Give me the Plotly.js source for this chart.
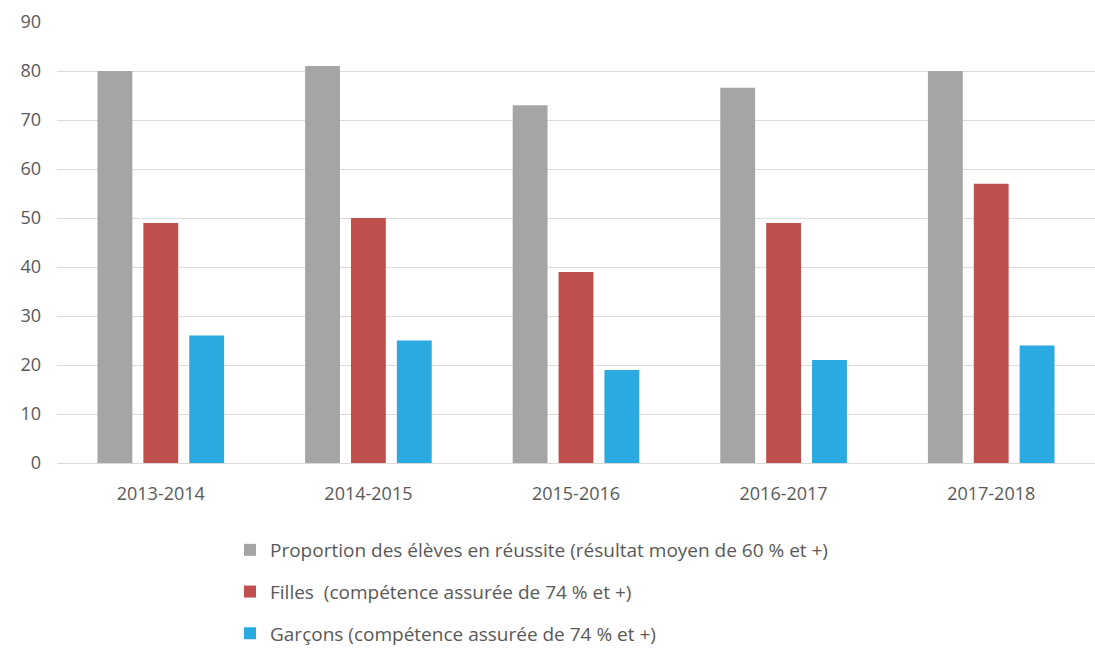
<!DOCTYPE html>
<html>
<head>
<meta charset="utf-8">
<script src="https://cdn.plot.ly/plotly-3.0.1.min.js"></script>
<style>html,body{margin:0;padding:0;background:#fff;}#chart{width:1095px;height:648px;}</style>
</head>
<body>
<div id="chart"></div>
<script>
const categories = ["2013-2014", "2014-2015", "2015-2016", "2016-2017", "2017-2018"];
const seriesNames = [
  "Proportion des élèves en réussite (résultat moyen de 60 % et +)",
  "Filles  (compétence assurée de 74 % et +)",
  "Garçons (compétence assurée de 74 % et +)"
];
const reussite = [80, 81, 73, 76.6, 80];
const filles = [49, 50, 39, 49, 57];
const garcons = [26, 25, 19, 21, 24];
const colors = ["#a5a5a5", "#c0504d", "#29abe2"];
const yTicks = [0, 10, 20, 30, 40, 50, 60, 70, 80, 90];

const font = "Open Sans, Noto Sans, sans-serif";
const values = [reussite, filles, garcons];
const traces = values.map((v, i) => ({
  type: "bar",
  x: categories,
  y: v,
  name: seriesNames[i],
  legendgroup: "g" + i,
  marker: {color: colors[i]},
  hoverinfo: "x+y"
}));

const layout = {
  width: 1095,
  height: 648,
  margin: {l: 57, r: 0, t: 22, b: 185, autoexpand: false},
  paper_bgcolor: "#ffffff",
  plot_bgcolor: "#ffffff",
  barmode: "group",
  bargap: 0.337,
  bargroupgap: 0.24,
  font: {family: font, color: "#595959", size: 18},
  xaxis: {
    type: "category",
    showgrid: false,
    showline: true,
    linecolor: "#d9d9d9",
    linewidth: 1,
    ticks: "",
    ticklabelstandoff: 14,
    tickfont: {size: 18, color: "#595959"}
  },
  yaxis: {
    range: [0, 90],
    tickvals: yTicks,
    showgrid: true,
    gridcolor: "#dcdcdc",
    gridwidth: 1,
    zeroline: false,
    showline: false,
    ticks: "",
    ticklabelstandoff: 15,
    tickfont: {size: 18, color: "#595959"}
  },
  showlegend: true,
  legend: {
    orientation: "v",
    traceorder: "grouped",
    tracegroupgap: 14,
    xref: "container",
    yref: "container",
    x: 230 / 1095,
    xanchor: "left",
    y: 1 - 531 / 648,
    yanchor: "top",
    font: {size: 19, color: "#595959", family: font},
    itemwidth: 30,
    bgcolor: "rgba(0,0,0,0)"
  }
};

Plotly.newPlot("chart", traces, layout, {displayModeBar: false, staticPlot: true});
</script>
</body>
</html>
